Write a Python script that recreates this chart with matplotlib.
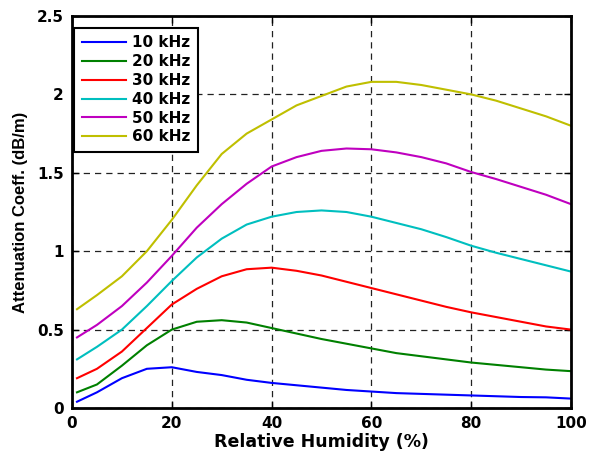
import matplotlib
matplotlib.use('Agg')
import matplotlib.pyplot as plt

plt.rcParams['font.family'] = ['DejaVu Sans']
plt.rcParams['font.weight'] = 'bold'

## data ##
humidity = [1, 5, 10, 15, 20, 25, 30, 35, 40, 45, 50, 55, 60, 65, 70, 75, 80, 85, 90, 95, 100]
att_10k = [0.04, 0.10, 0.19, 0.25, 0.26, 0.23, 0.21, 0.18, 0.16, 0.145, 0.13, 0.115, 0.105, 0.095, 0.09, 0.085, 0.08, 0.075, 0.07, 0.068, 0.06]
att_20k = [0.10, 0.15, 0.27, 0.40, 0.50, 0.55, 0.56, 0.545, 0.51, 0.475, 0.44, 0.41, 0.38, 0.35, 0.33, 0.31, 0.29, 0.275, 0.26, 0.245, 0.235]
att_30k = [0.19, 0.25, 0.36, 0.51, 0.66, 0.76, 0.84, 0.885, 0.895, 0.875, 0.845, 0.805, 0.765, 0.725, 0.685, 0.645, 0.61, 0.58, 0.55, 0.52, 0.50]
att_40k = [0.31, 0.39, 0.50, 0.65, 0.81, 0.96, 1.08, 1.17, 1.22, 1.25, 1.26, 1.25, 1.22, 1.18, 1.14, 1.09, 1.035, 0.99, 0.95, 0.91, 0.87]
att_50k = [0.45, 0.53, 0.65, 0.80, 0.97, 1.15, 1.30, 1.43, 1.54, 1.60, 1.64, 1.655, 1.65, 1.63, 1.60, 1.56, 1.505, 1.46, 1.41, 1.36, 1.30]
att_60k = [0.63, 0.72, 0.84, 1.00, 1.20, 1.42, 1.62, 1.75, 1.84, 1.93, 1.99, 2.05, 2.08, 2.08, 2.06, 2.03, 2.00, 1.96, 1.91, 1.86, 1.80]
labels = ['10 kHz', '20 kHz', '30 kHz', '40 kHz', '50 kHz', '60 kHz']
colors = ['#0000ff', '#008000', '#ff0000', '#00bfbf', '#bf00bf', '#bfbf00']

fig = plt.figure(figsize=(5.9, 4.54), dpi=100)
ax = fig.add_axes([72/590, 1 - 408/454, 499/590, 392/454])

for ys, lab, c in zip([att_10k, att_20k, att_30k, att_40k, att_50k, att_60k], labels, colors):
    ax.plot(humidity, ys, color=c, lw=1.5, label=lab)

ax.set_xlim(0, 100)
ax.set_ylim(0, 2.5)
ax.set_xticks([0, 20, 40, 60, 80, 100])
ax.set_yticks([0, 0.5, 1, 1.5, 2, 2.5])
ax.set_yticklabels(['0', '0.5', '1', '1.5', '2', '2.5'])
ax.grid(True, color='#222222', linestyle=(0, (5, 4)), lw=0.9)
ax.tick_params(direction='in', top=True, right=True, length=5, width=1, labelsize=11)
ax.tick_params(axis='x', pad=6)
ax.tick_params(axis='y', pad=6)
for s in ax.spines.values():
    s.set_linewidth(2)

ax.set_xlabel('Relative Humidity (%)', fontsize=12.5, fontweight='bold', labelpad=1)
ax.set_ylabel('Attenuation Coeff. (dB/m)', fontsize=12, fontweight='bold', labelpad=6,
              family='Liberation Sans')

leg = ax.legend(loc='upper left', bbox_to_anchor=(0.004, 0.97), fontsize=11,
                handlelength=2.9, handletextpad=0.4, fancybox=False, framealpha=1,
                edgecolor='black', borderaxespad=0, labelspacing=0.25, borderpad=0.5)
leg.get_frame().set_linewidth(1.5)
for t in leg.get_texts():
    t.set_fontweight('bold')

fig.savefig('out.png', dpi=100)
